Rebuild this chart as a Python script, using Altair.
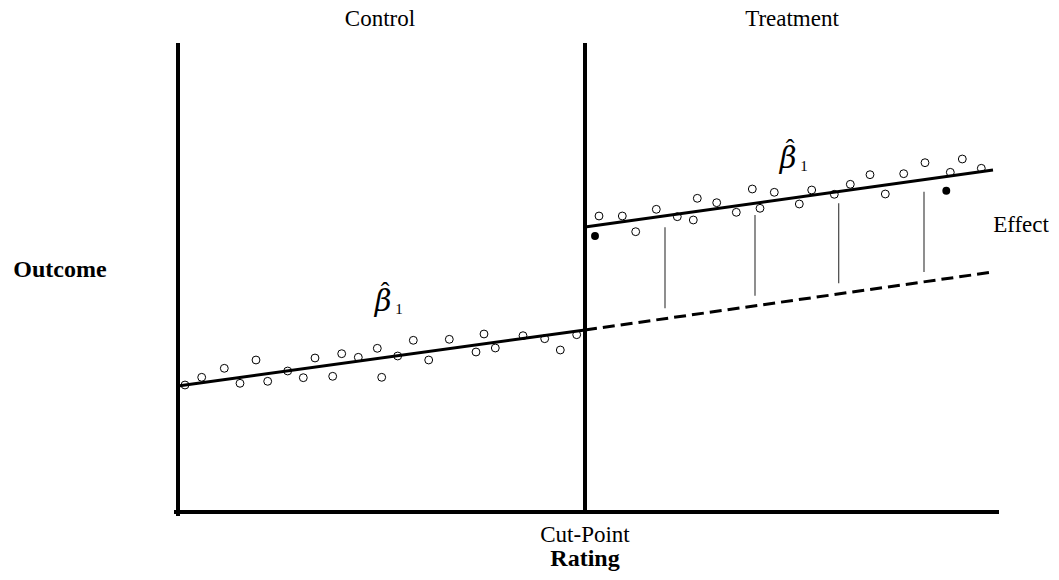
import altair as alt
import pandas as pd

# ---------------- data ----------------
control_rating = [185, 201.7, 224.3, 240, 256, 267.7, 287.7, 303.3, 315, 332.7, 341.7, 358.3,
                  377.3, 381.7, 397.7, 413.3, 428.7, 449.3, 476, 484, 495.3, 523, 544.7, 560.3, 576.7]
control_outcome = [127, 134.7, 143.7, 128.7, 152, 130.7, 141, 134.3, 154, 135.7, 158.3, 154.7,
                   163.7, 134.7, 156, 171.7, 152, 172.7, 160, 178, 164, 176.3, 173.3, 162, 177.3]

treat_rating = [599, 622.3, 635.7, 656.3, 677.3, 693.3, 697.3, 716.7, 736.3, 752.3, 760, 774.3,
                799.3, 811.7, 834.3, 850.3, 870, 885.3, 903.7, 925, 950.3, 962.3, 981.3]
treat_outcome = [296, 296, 280.3, 302.7, 295.3, 292, 313.7, 309.3, 299.7, 323, 303.7, 319.7,
                 308, 322, 317.7, 327.7, 337.3, 318, 338.3, 349.3, 339.7, 353, 343.7]

highlight_rating = [595, 946.3]
highlight_outcome = [276, 321.3]

fit_kind = ["control", "counterfactual", "treatment"]
fit_r0 = [178, 585, 585]
fit_r1 = [585, 993, 993]
fit_o0 = [126, 182, 285]
fit_o1 = [182, 240, 342]

effect_rating = [665, 755, 838.7, 924]
effect_top = [284.7, 297, 308.7, 320.3]
effect_bottom = [203.7, 216.3, 228.7, 240]

frame_name = ["y-axis", "cut-point", "x-axis"]
frame_r0 = [178, 585, 176]
frame_r1 = [178, 585, 997]
frame_o0 = [-2, 0, 0]
frame_o1 = [467, 467, 0]

label_text = ["Control", "Treatment", "Effect", "Cut-Point"]
label_rating = [380, 792, 1021, 585]
label_outcome = [493, 493, 287, -23]

bold_text = ["Outcome", "Rating"]
bold_rating = [60, 585]
bold_outcome = [242, -47]

beta_rating = [383, 788]
beta_outcome = [210, 353.5]
hat_rating = [385, 790]
hat_outcome = [220, 363.5]
sub_rating = [399, 804]
sub_outcome = [203, 346.5]

# ---------------- chart ----------------
W, H = 1043, 564
xs = alt.Scale(domain=[8, 1051], nice=False, zero=False)
ys = alt.Scale(domain=[-60, 504], nice=False, zero=False)

def X(f="rating"):
    return alt.X(f"{f}:Q", scale=xs, axis=None)

def Y(f="outcome"):
    return alt.Y(f"{f}:Q", scale=ys, axis=None)

serif = "Liberation Serif"

frame_df = pd.DataFrame({"name": frame_name, "r0": frame_r0, "r1": frame_r1, "o0": frame_o0, "o1": frame_o1})
frame = alt.Chart(frame_df).mark_rule(color="black", strokeWidth=4, strokeCap="square").encode(
    x=X("r0"), x2="r1", y=Y("o0"), y2="o1")

fit_df = pd.DataFrame({"kind": fit_kind, "r0": fit_r0, "r1": fit_r1, "o0": fit_o0, "o1": fit_o1})
fits = alt.Chart(fit_df[fit_df.kind != "counterfactual"]).mark_rule(color="black", strokeWidth=3).encode(
    x=X("r0"), x2="r1", y=Y("o0"), y2="o1")
dashed = alt.Chart(fit_df[fit_df.kind == "counterfactual"]).mark_rule(
    color="black", strokeWidth=3, strokeDash=[12, 6]).encode(
    x=X("r0"), x2="r1", y=Y("o0"), y2="o1")

eff_df = pd.DataFrame({"rating": effect_rating, "top": effect_top, "bottom": effect_bottom})
effects = alt.Chart(eff_df).mark_rule(color="#444444", strokeWidth=1.2).encode(
    x=X(), y=Y("bottom"), y2="top")

pts_df = pd.DataFrame({"rating": control_rating + treat_rating,
                       "outcome": control_outcome + treat_outcome})
points = alt.Chart(pts_df).mark_point(shape="circle", filled=False, color="black",
                                      size=62, strokeWidth=1, opacity=1).encode(x=X(), y=Y())

hl_df = pd.DataFrame({"rating": highlight_rating, "outcome": highlight_outcome})
hl = alt.Chart(hl_df).mark_point(shape="circle", filled=True, color="black",
                                 size=62, opacity=1).encode(x=X(), y=Y())

lab_df = pd.DataFrame({"text": label_text, "rating": label_rating, "outcome": label_outcome})
labels = alt.Chart(lab_df).mark_text(font=serif, fontSize=23, color="black",
                                     align="center", baseline="middle").encode(
    x=X(), y=Y(), text="text:N")

bold_df = pd.DataFrame({"text": bold_text, "rating": bold_rating, "outcome": bold_outcome})
bold = alt.Chart(bold_df).mark_text(font=serif, fontSize=24, fontWeight="bold", color="black",
                                    align="center", baseline="middle").encode(
    x=X(), y=Y(), text="text:N")

beta_df = pd.DataFrame({"rating": beta_rating, "outcome": beta_outcome,
                        "hr": hat_rating, "ho": hat_outcome,
                        "sr": sub_rating, "so": sub_outcome,
                        "b": ["β", "β"], "h": ["ˆ", "ˆ"], "s": ["1", "1"]})
beta = alt.Chart(beta_df).mark_text(font="DejaVu Serif", fontSize=29, fontStyle="italic", color="black",
                                    align="center", baseline="middle").encode(
    x=X(), y=Y(), text="b:N")
hat = alt.Chart(beta_df).mark_text(font=serif, fontSize=26, color="black",
                                   align="center", baseline="middle").encode(
    x=X("hr"), y=Y("ho"), text="h:N")
sub = alt.Chart(beta_df).mark_text(font=serif, fontSize=15, color="black",
                                   align="center", baseline="middle").encode(
    x=X("sr"), y=Y("so"), text="s:N")

chart = alt.layer(frame, fits, dashed, effects, points, hl, labels, bold, beta, hat, sub).properties(
    width=W, height=H, autosize=alt.AutoSizeParams(type="none"), padding=0,
    background="white"
).configure_view(stroke=None)

chart.save("out.html", embed_options={"renderer": "svg", "actions": False})
